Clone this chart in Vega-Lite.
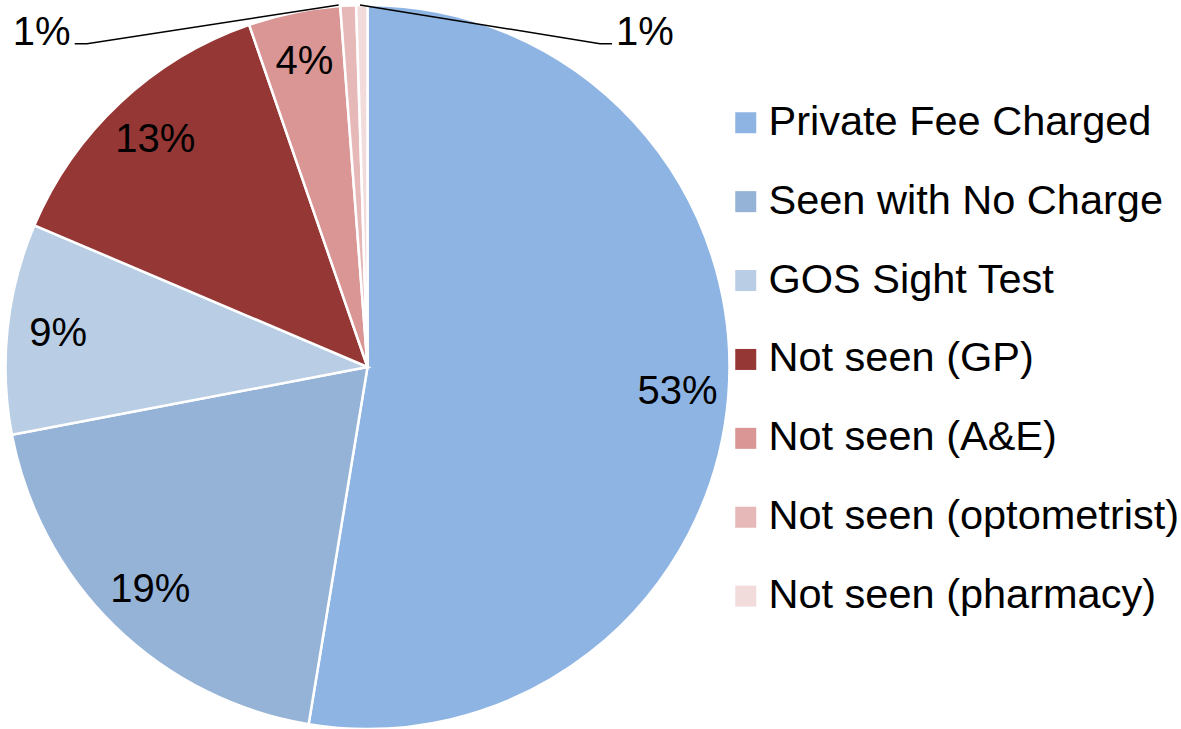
{
  "$schema": "https://vega.github.io/schema/vega-lite/v6.json",
  "width": 731,
  "height": 730,
  "padding": 0,
  "background": "white",
  "config": {
    "view": {"stroke": null},
    "font": "Liberation Sans"
  },
  "datasets": {
    "slices": [
      {"category": "Private Fee Charged", "rank": 1, "value": 52.6, "label": "53%", "inside": true},
      {"category": "Seen with No Charge", "rank": 2, "value": 19.4, "label": "19%", "inside": true},
      {"category": "GOS Sight Test", "rank": 3, "value": 9.4, "label": "9%", "inside": true},
      {"category": "Not seen (GP)", "rank": 4, "value": 13.3, "label": "13%", "inside": true},
      {"category": "Not seen (A&E)", "rank": 5, "value": 4.1, "label": "4%", "inside": true},
      {"category": "Not seen (optometrist)", "rank": 6, "value": 0.7, "label": "1%", "inside": false},
      {"category": "Not seen (pharmacy)", "rank": 7, "value": 0.5, "label": "1%", "inside": false}
    ],
    "outerLabels": [
      {"category": "Not seen (optometrist)", "label": "1%", "ux": -0.9, "uy": 0.8895},
      {"category": "Not seen (pharmacy)", "label": "1%", "ux": 0.7666, "uy": 0.8895}
    ],
    "leaders": [
      {"line": "optometrist", "seq": 1, "ux": -0.8088, "uy": 0.8931},
      {"line": "optometrist", "seq": 2, "ux": -0.7749, "uy": 0.8931},
      {"line": "optometrist", "seq": 3, "ux": -0.0796, "uy": 1.0},
      {"line": "pharmacy", "seq": 1, "ux": -0.0207, "uy": 1.0},
      {"line": "pharmacy", "seq": 2, "ux": 0.6423, "uy": 0.8931},
      {"line": "pharmacy", "seq": 3, "ux": 0.6754, "uy": 0.8931}
    ]
  },
  "layer": [
    {
      "data": {"name": "slices"},
      "mark": {"type": "arc", "outerRadius": 362, "stroke": "white", "strokeWidth": 2.5},
      "encoding": {
        "theta": {"field": "value", "type": "quantitative", "stack": true},
        "order": {"field": "rank", "type": "quantitative"},
        "color": {
          "field": "category",
          "type": "nominal",
          "scale": {
            "domain": ["Private Fee Charged", "Seen with No Charge", "GOS Sight Test", "Not seen (GP)", "Not seen (A&E)", "Not seen (optometrist)", "Not seen (pharmacy)"],
            "range": ["#8EB4E3", "#95B3D7", "#B9CDE5", "#953735", "#D99694", "#E6B9B8", "#F2DCDB"]
          },
          "legend": {
            "title": null,
            "orient": "none",
            "legendX": 723,
            "legendY": 100,
            "padding": 0,
            "symbolType": "square",
            "symbolSize": 441,
            "symbolStrokeWidth": 0,
            "labelFontSize": 41.5,
            "labelFont": "Liberation Sans",
            "labelColor": "black",
            "labelOffset": 2,
            "labelLimit": 0,
            "rowPadding": 35.9
          }
        }
      }
    },
    {
      "data": {"name": "slices"},
      "transform": [{"filter": "datum.inside"}],
      "mark": {"type": "text", "radius": 311, "fontSize": 40, "font": "Liberation Sans", "color": "black", "align": "center", "baseline": "middle"},
      "encoding": {
        "theta": {"field": "value", "type": "quantitative", "stack": true},
        "order": {"field": "rank", "type": "quantitative"},
        "text": {"field": "label", "type": "nominal"}
      }
    },
    {
      "data": {"name": "leaders"},
      "mark": {"type": "line", "color": "black", "strokeWidth": 1.5},
      "encoding": {
        "x": {"field": "ux", "type": "quantitative", "scale": {"domain": [-1.00967, 1.00967], "nice": false, "zero": false}, "axis": null},
        "y": {"field": "uy", "type": "quantitative", "scale": {"domain": [-1.00829, 1.00829], "nice": false, "zero": false}, "axis": null},
        "detail": {"field": "line", "type": "nominal"},
        "order": {"field": "seq", "type": "quantitative"}
      }
    },
    {
      "data": {"name": "outerLabels"},
      "mark": {"type": "text", "fontSize": 40, "font": "Liberation Sans", "color": "black", "align": "center", "baseline": "alphabetic"},
      "encoding": {
        "x": {"field": "ux", "type": "quantitative", "scale": {"domain": [-1.00967, 1.00967], "nice": false, "zero": false}, "axis": null},
        "y": {"field": "uy", "type": "quantitative", "scale": {"domain": [-1.00829, 1.00829], "nice": false, "zero": false}, "axis": null},
        "text": {"field": "label", "type": "nominal"}
      }
    }
  ]
}
